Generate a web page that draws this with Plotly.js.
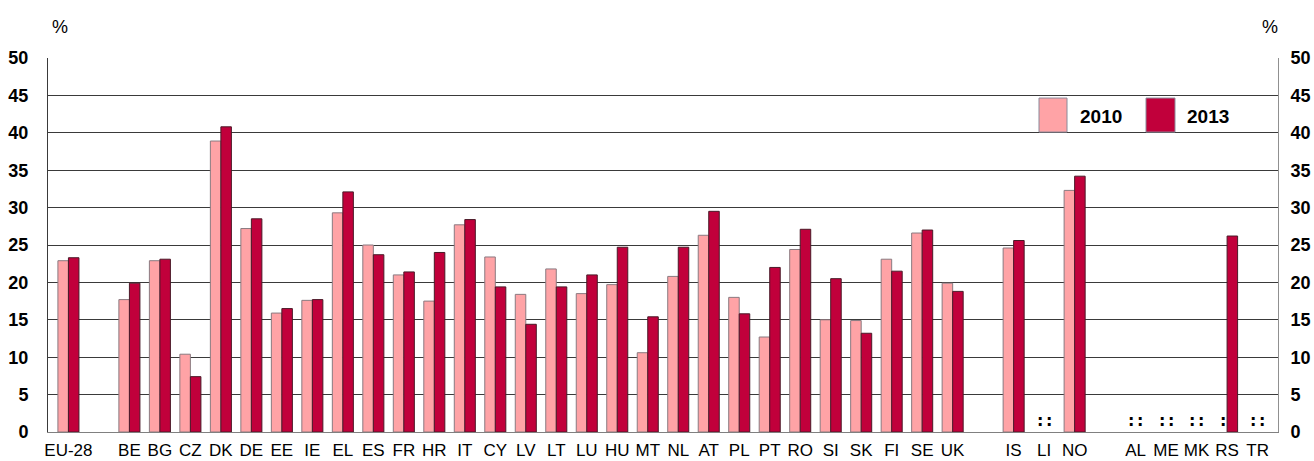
<!DOCTYPE html>
<html>
<head>
<meta charset="utf-8">
<script src="https://cdn.plot.ly/plotly-3.0.1.min.js"></script>
<style>html,body{margin:0;padding:0;background:#fff;}#chart{width:1314px;height:461px;}</style>
</head>
<body>
<div id="chart"></div>
<script>
// '' marks a spacing slot between country groups
const categories = ['EU-28','', 'BE','BG','CZ','DK','DE','EE','IE','EL','ES','FR','HR','IT','CY','LV','LT','LU','HU','MT','NL','AT','PL','PT','RO','SI','SK','FI','SE','UK','', 'IS','LI','NO','', 'AL','ME','MK','RS','TR'];
const values2010 = [22.9,null, 17.7,22.9,10.4,38.9,27.2,15.9,17.6,29.3,25.0,21.0,17.5,27.7,23.4,18.4,21.8,18.5,19.7,10.6,20.8,26.3,18.0,12.7,24.4,15.0,14.9,23.1,26.6,19.9,null, 24.6,null,32.3,null, null,null,null,null,null];
const values2013 = [23.3,null, 19.9,23.1,7.4,40.8,28.5,16.5,17.7,32.1,23.7,21.4,24.0,28.4,19.4,14.4,19.4,21.0,24.7,15.4,24.7,29.5,15.8,22.0,27.1,20.5,13.2,21.5,27.0,18.8,null, 25.6,null,34.2,null, null,null,null,26.2,null];
const seriesNames = ['2010','2013'];
const yTicks = [0,5,10,15,20,25,30,35,40,45,50];

const colors = ['#FFA3A6','#C1003B'];
const lineColors = ['#8a7a80','#4a1a28'];
const FONT = '"Liberation Sans", Arial, sans-serif';

const xIdx = categories.map((c,i)=>i);
const tickIdx = xIdx.filter(i=>categories[i] !== '');
const tickText = tickIdx.map(i=>categories[i]);

const traces = [values2010, values2013].map((vals,k)=>({
  type:'bar', name:seriesNames[k], x:xIdx, y:vals,
  marker:{color:colors[k], line:{color:lineColors[k], width:1}},
  hoverinfo:'x+y', showlegend:false
}));
// empty trace so the right-hand value axis is drawn
traces.push({type:'scatter', mode:'markers', x:[], y:[], yaxis:'y2', showlegend:false, hoverinfo:'skip'});

const L=48, R=1278, T=58, B=431.7, W=R-L, H=B-T;
const px = x=>(x-L)/W, py = y=>(B-y)/H;

// ":" markers for not-available data
const annotations = [];
[values2010, values2013].forEach((vals,k)=>{
  vals.forEach((v,i)=>{
    if (categories[i] !== '' && v === null) {
      annotations.push({x:i + (k===0?-0.15:0.15), y:1.6, xref:'x', yref:'y', xanchor:'center', yanchor:'middle', text:':', showarrow:false,
        font:{family:'"DejaVu Sans", sans-serif', size:16, color:'#000', weight:'bold'}});
    }
  });
});
annotations.push({x:px(60), y:py(27), xref:'paper', yref:'paper', xanchor:'center', yanchor:'middle', text:'%', showarrow:false, font:{family:FONT,size:18,color:'#000'}});
annotations.push({x:px(1270), y:py(27), xref:'paper', yref:'paper', xanchor:'center', yanchor:'middle', text:'%', showarrow:false, font:{family:FONT,size:18,color:'#000'}});
// legend labels
annotations.push({x:px(1078), y:py(116), xref:'paper', yref:'paper', xanchor:'left', yanchor:'middle', text:seriesNames[0], showarrow:false, font:{family:FONT,size:19,color:'#000',weight:'bold'}});
annotations.push({x:px(1185), y:py(116), xref:'paper', yref:'paper', xanchor:'left', yanchor:'middle', text:seriesNames[1], showarrow:false, font:{family:FONT,size:19,color:'#000',weight:'bold'}});

const shapes = [
  {type:'rect', xref:'paper', yref:'paper', x0:px(1039), x1:px(1067), y0:py(132), y1:py(98), fillcolor:colors[0], line:{color:'#8a8a9a', width:1}},
  {type:'rect', xref:'paper', yref:'paper', x0:px(1146), x1:px(1175), y0:py(132), y1:py(98), fillcolor:colors[1], line:{color:'#8a8a9a', width:1}}
];

const yAxisCommon = {range:[0,50], tickvals:yTicks, ticktext:yTicks.map(String), fixedrange:true,
  tickfont:{family:FONT, size:18, color:'#000', weight:'bold'}, ticks:'', zeroline:false};

const layout = {
  width:1314, height:461,
  margin:{l:48, r:36, t:58, b:29.3, pad:0},
  paper_bgcolor:'#fff', plot_bgcolor:'#fff',
  barmode:'group', bargap:0.31, bargroupgap:0,
  xaxis:{range:[-0.67,39.67], tickvals:tickIdx, ticktext:tickText, tickangle:0,
    tickfont:{family:FONT, size:17, color:'#000'}, ticks:'', showgrid:false, zeroline:false,
    showline:true, linecolor:'#808080', linewidth:1, fixedrange:true, ticklabelstandoff:3},
  yaxis:Object.assign({}, yAxisCommon, {side:'left', showgrid:true, gridcolor:'#3a3a3a', gridwidth:1,
    showline:true, linecolor:'#3a3a3a', linewidth:1, ticklabelstandoff:15}),
  yaxis2:Object.assign({}, yAxisCommon, {side:'right', overlaying:'y', showgrid:false,
    showline:true, linecolor:'#909090', linewidth:1, ticklabelstandoff:8}),
  annotations:annotations, shapes:shapes, showlegend:false
};

Plotly.newPlot('chart', traces, layout, {displayModeBar:false, staticPlot:true});
</script>
</body>
</html>
